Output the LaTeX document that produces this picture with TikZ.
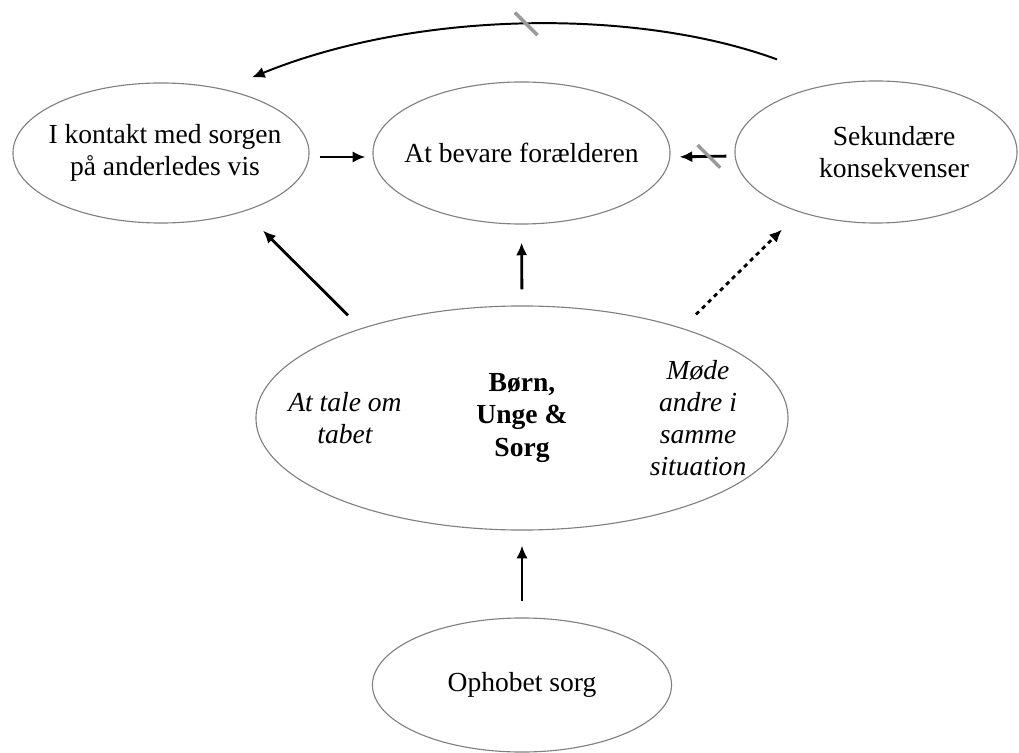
\documentclass[tikz,border=0pt]{standalone}
\usepackage{fontspec}
\setmainfont{Liberation Serif}
\usepackage{tikz}
\usetikzlibrary{shapes.geometric}
\usetikzlibrary{arrows.meta}

\begin{document}
\begin{tikzpicture}[x=0.025cm,y=-0.025cm]
	\tikzstyle{Oval}  = [shape=ellipse, draw=gray, line width=0.8pt, inner sep=0pt]
	\tikzstyle{Label} = [align=center, font=\fontsize{19.6}{22.8}\selectfont]
	\tikzstyle{Edge}  = [line width=2pt, -{Latex[length=9pt,width=8pt]}]
	\tikzstyle{Cut}   = [draw=gray!80, line width=2.5pt, inner sep=0pt, minimum width=0pt, minimum height=0.8cm, rotate=45]
	\useasboundingbox (0,0) rectangle (1019,753);
	\node[Oval, minimum width=7.4cm, minimum height=3.5cm] (kontakt) at (161,153) {};
	\node[Oval, minimum width=7.425cm, minimum height=3.55cm] (bevare) at (521.5,153) {};
	\node[Oval, minimum width=7.05cm, minimum height=3.55cm] (sek) at (876,152) {};
	\node[Oval, minimum width=13.3cm, minimum height=5.6cm] (boern) at (522,418) {};
	\node[Oval, minimum width=7.475cm, minimum height=3.35cm] (ophobet) at (522,685) {};
	\node[Label] (kontakt-t) at ([xshift=0.1cm]kontakt.center) {I kontakt med sorgen\\på anderledes vis};
	\node[Label] (bevare-t) at (bevare) {At bevare forælderen};
	\node[Label] (sek-t) at ([xshift=0.45cm]sek.center) {Sekundære\\konsekvenser};
	\node[Label, font=\fontsize{19.6}{22.8}\selectfont\bfseries] (boern-t) at (boern) {Børn,\\Unge \&\\Sorg};
	\node[Label, font=\fontsize{19.6}{22.8}\selectfont\itshape] (tale) at ([xshift=-4.425cm]boern.center) {At tale om\\tabet};
	\node[Label, font=\fontsize{19.6}{22.8}\selectfont\itshape] (moede) at ([xshift=4.4cm]boern.center) {Møde\\andre i\\samme\\situation};
	\node[Label] (ophobet-t) at (ophobet) {Ophobet sorg};
	\draw[Edge, line width=1.4pt] ([xshift=-2.475cm,yshift=0.525cm]sek.north) .. controls (640,9) and (420,9) .. ([xshift=2.275cm,yshift=0.125cm]kontakt.north) node[Cut, pos=0.5] (cut1) {};
	\draw[Edge, shorten <=0.25cm, shorten >=0.175cm] ([yshift=-0.1cm]kontakt.east) -- ([yshift=-0.1cm]bevare.west);
	\draw[Edge, shorten <=0.2cm, shorten >=0.225cm] ([yshift=-0.1cm]sek.west) -- ([yshift=-0.1cm]bevare.east) node[Cut, pos=0.4] (cut2) {};
	\draw[Edge] ([xshift=-4.35cm,yshift=-0.25cm]boern.north) -- ([xshift=2.55cm,yshift=-0.175cm]kontakt.south);
	\draw[Edge, shorten <=0.4cm, shorten >=0.45cm] (boern.north) -- (bevare.south);
	\draw[Edge, dash pattern=on 3pt off 3pt] ([xshift=4.35cm,yshift=-0.225cm]boern.north) -- ([xshift=-2.35cm,yshift=-0.15cm]sek.south);
	\draw[Edge, shorten <=0.4cm, shorten >=0.375cm] (ophobet.north) -- (boern.south);
\end{tikzpicture}
\end{document}
